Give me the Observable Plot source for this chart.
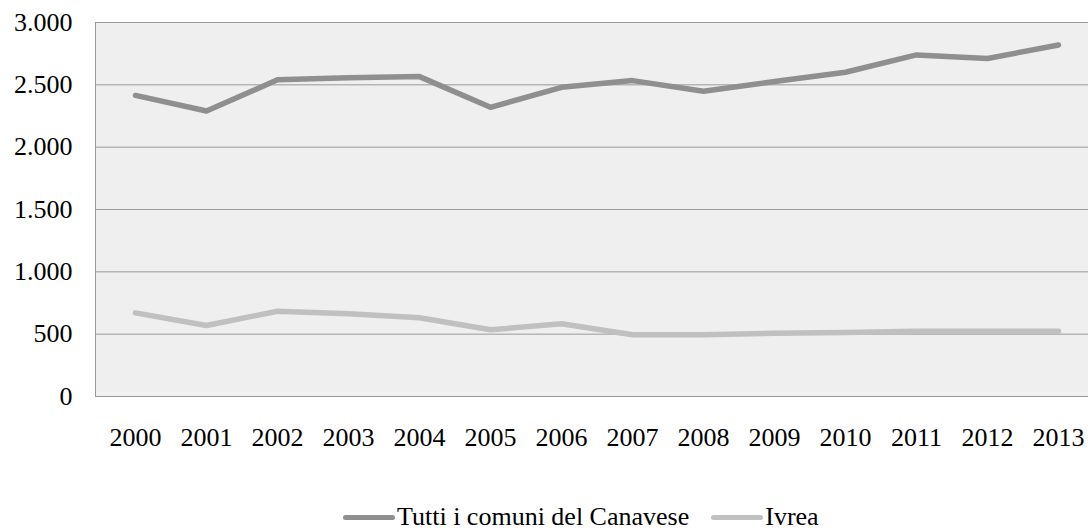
<!DOCTYPE html>
<html>
<head>
<meta charset="utf-8">
<script src="https://cdn.jsdelivr.net/npm/d3@7"></script>
<script src="https://cdn.jsdelivr.net/npm/@observablehq/plot@0.6"></script>
<style>
  html, body { margin: 0; padding: 0; background: #fff; }
  #wrap { position: relative; width: 1088px; height: 531px; overflow: hidden; font-family: "Liberation Serif", "Times New Roman", serif; }
  #legend { position: absolute; left: 343px; top: 502px; height: 30px; display: flex; align-items: center; font-size: 26px; line-height: 26px; color: #000; white-space: nowrap; }
  .item { display: flex; align-items: center; margin-right: 22px; }
  .sw { width: 52px; height: 5px; border-radius: 3px; margin-right: 2px; }
</style>
</head>
<body>
<div id="wrap"><div id="chart"></div><div id="legend"></div></div>
<script>
const years = ["2000","2001","2002","2003","2004","2005","2006","2007","2008","2009","2010","2011","2012","2013"];
const seriesNames = ["Tutti i comuni del Canavese", "Ivrea"];
const canavese = [2415, 2290, 2540, 2556, 2566, 2320, 2480, 2534, 2449, 2526, 2601, 2740, 2711, 2820];
const ivrea = [671, 569, 684, 663, 631, 535, 583, 495, 495, 508, 513, 524, 524, 524];
const seriesColors = ["#8f8f8f", "#c0c0c0"];
const yTicks = [0, 500, 1000, 1500, 2000, 2500, 3000];

const data = [];
years.forEach((y, i) => {
  data.push({year: y, value: canavese[i], series: seriesNames[0]});
  data.push({year: y, value: ivrea[i], series: seriesNames[1]});
});

const fmt = d3.formatLocale({decimal: ",", thousands: ".", grouping: [3], currency: ["", "€"]}).format(",d");

const chart = Plot.plot({
  width: 1088,
  height: 470,
  marginLeft: 95,
  marginRight: 0,
  marginTop: 22,
  marginBottom: 74,
  style: {fontFamily: "Liberation Serif, Times New Roman, serif", fontSize: "26px", color: "#000", background: "transparent"},
  x: {type: "point", domain: years, padding: 0, insetLeft: 35, insetRight: 26, label: null},
  y: {domain: [0, 3000], label: null},
  color: {domain: seriesNames, range: seriesColors},
  marks: [
    Plot.frame({fill: "#efefef", stroke: "#999", strokeWidth: 1}),
    Plot.ruleY(yTicks, {stroke: "#999", strokeWidth: 1, strokeOpacity: 1}),
    Plot.axisY({ticks: yTicks, tickFormat: fmt, tickSize: 0, tickPadding: 23, fontSize: 26, label: null}),
    Plot.axisX({tickSize: 0, tickPadding: 31, fontSize: 26, label: null}),
    Plot.line(data, {x: "year", y: "value", z: "series", stroke: "series", strokeWidth: 5.5, strokeLinecap: "round", strokeLinejoin: "round"})
  ]
});
document.getElementById("chart").appendChild(chart);

const legend = document.getElementById("legend");
seriesNames.forEach((name, i) => {
  const item = document.createElement("div");
  item.className = "item";
  const sw = document.createElement("span");
  sw.className = "sw";
  sw.style.background = seriesColors[i];
  const t = document.createElement("span");
  t.textContent = name;
  item.appendChild(sw);
  item.appendChild(t);
  legend.appendChild(item);
});
</script>
</body>
</html>
